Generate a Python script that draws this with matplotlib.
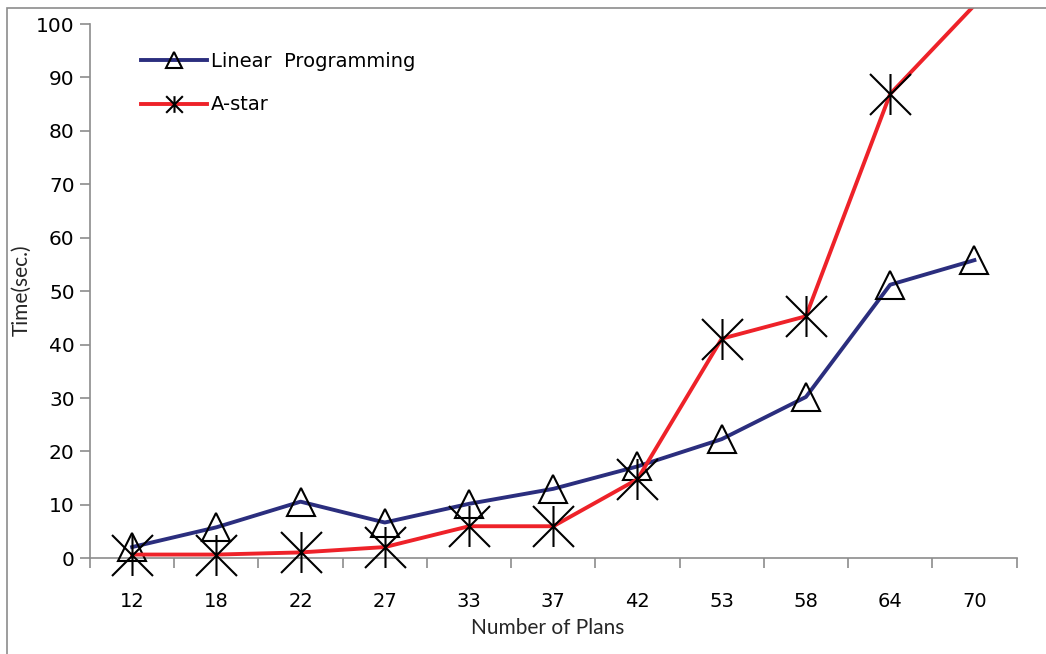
import numpy as np
import matplotlib
matplotlib.use("Agg")
import matplotlib.pyplot as plt
from matplotlib.path import Path
from matplotlib.lines import Line2D
from matplotlib.patches import Rectangle

# number of plans on the category axis
plans = ["12", "18", "22", "27", "33", "37", "42", "53", "58", "64", "70"]
# run time in seconds
lp_time = [2.1, 5.8, 10.6, 6.7, 10.2, 13.0, 17.2, 22.3, 30.2, 51.2, 55.8]
astar_time = [0.7, 0.7, 1.1, 2.1, 6.0, 6.0, 14.8, 41.1, 45.3, 86.9, 103.5]

W, H = 1046, 654
fig = plt.figure(figsize=(W / 100, H / 100), dpi=100)
ax = fig.add_axes([90 / W, 1 - 558.3 / H, (1016.5 - 90) / W, (558.3 - 24) / H])

# asterisk marker: vertical bar plus an X
star = Path([(0, -1), (0, 1), (-1, -1), (1, 1), (-1, 1), (1, -1)],
            [Path.MOVETO, Path.LINETO] * 3)

blue = "#2b2e7e"
red = "#ee2229"
x = np.arange(len(plans))

# chart border, only its left and top edges fall inside the image
border = Rectangle((7 / W, -0.1), 1.2, 1 - 8 / H + 0.1, transform=fig.transFigure,
                   fill=False, ec="#8c8c8c", lw=1.2)
fig.patches.append(border)
clip = Rectangle((0, 0), 1, 1 - 8 / H, transform=fig.transFigure)

ax.plot(x, lp_time, color=blue, lw=2.8, zorder=3)
ax.plot(x, lp_time, ls="none", marker="^", ms=19.5, mfc="none",
        mec="black", mew=1.5, zorder=3, clip_on=False)

in_range = [i for i, v in enumerate(astar_time) if v <= 100]
ln, = ax.plot(x, astar_time, color=red, lw=2.8, zorder=4)
ln.set_clip_path(clip)
ax.plot(x[in_range], np.array(astar_time)[in_range], ls="none", marker=star,
        ms=29.5, mec="black", mew=1.5, zorder=5, clip_on=False)

ax.set_xlim(-0.5, len(plans) - 0.5)
ax.set_ylim(0, 100)

ax.set_xticks(np.arange(len(plans) + 1) - 0.5)
ax.set_xticklabels([])
ax.set_xticks(x, minor=True)
ax.set_xticklabels(plans, minor=True)
ax.set_yticks(np.arange(0, 101, 10))

tick_font = "DejaVu Sans"
ax.tick_params(axis="x", which="major", direction="out", length=7, width=1.2,
               color="#8c8c8c")
ax.tick_params(axis="x", which="minor", length=0, pad=24, labelsize=14)
ax.tick_params(axis="y", direction="out", length=7, width=1.2, color="#8c8c8c",
               labelsize=14.5, pad=4)
for lab in ax.get_xticklabels(minor=True) + ax.get_yticklabels():
    lab.set_fontfamily(tick_font)

for side in ["top", "right"]:
    ax.spines[side].set_visible(False)
for side in ["left", "bottom"]:
    ax.spines[side].set_color("#8c8c8c")
    ax.spines[side].set_linewidth(1.2)

fig.text(548 / W, 1 - 628 / H, "Number of Plans", ha="center", va="center",
         fontsize=15, family="Lato", color="#262626")
fig.text(22 / W, 1 - 290 / H, "Time(sec.)", ha="center", va="center",
         rotation=90, fontsize=15, family="Lato", color="#262626")

handles = [
    Line2D([], [], color=blue, lw=2.8, marker="^", ms=12, mfc="none",
           mec="black", mew=1.5),
    Line2D([], [], color=red, lw=2.8, marker=star, ms=12, mec="black", mew=1.5),
]
ax.legend(handles, ["Linear  Programming", "A-star"], loc="upper left",
          bbox_to_anchor=(0.036, 0.98), frameon=False, handlelength=3.4,
          handletextpad=0.2, labelspacing=1.25, prop={"family": tick_font, "size": 14})

fig.savefig("out.png", dpi=100)
